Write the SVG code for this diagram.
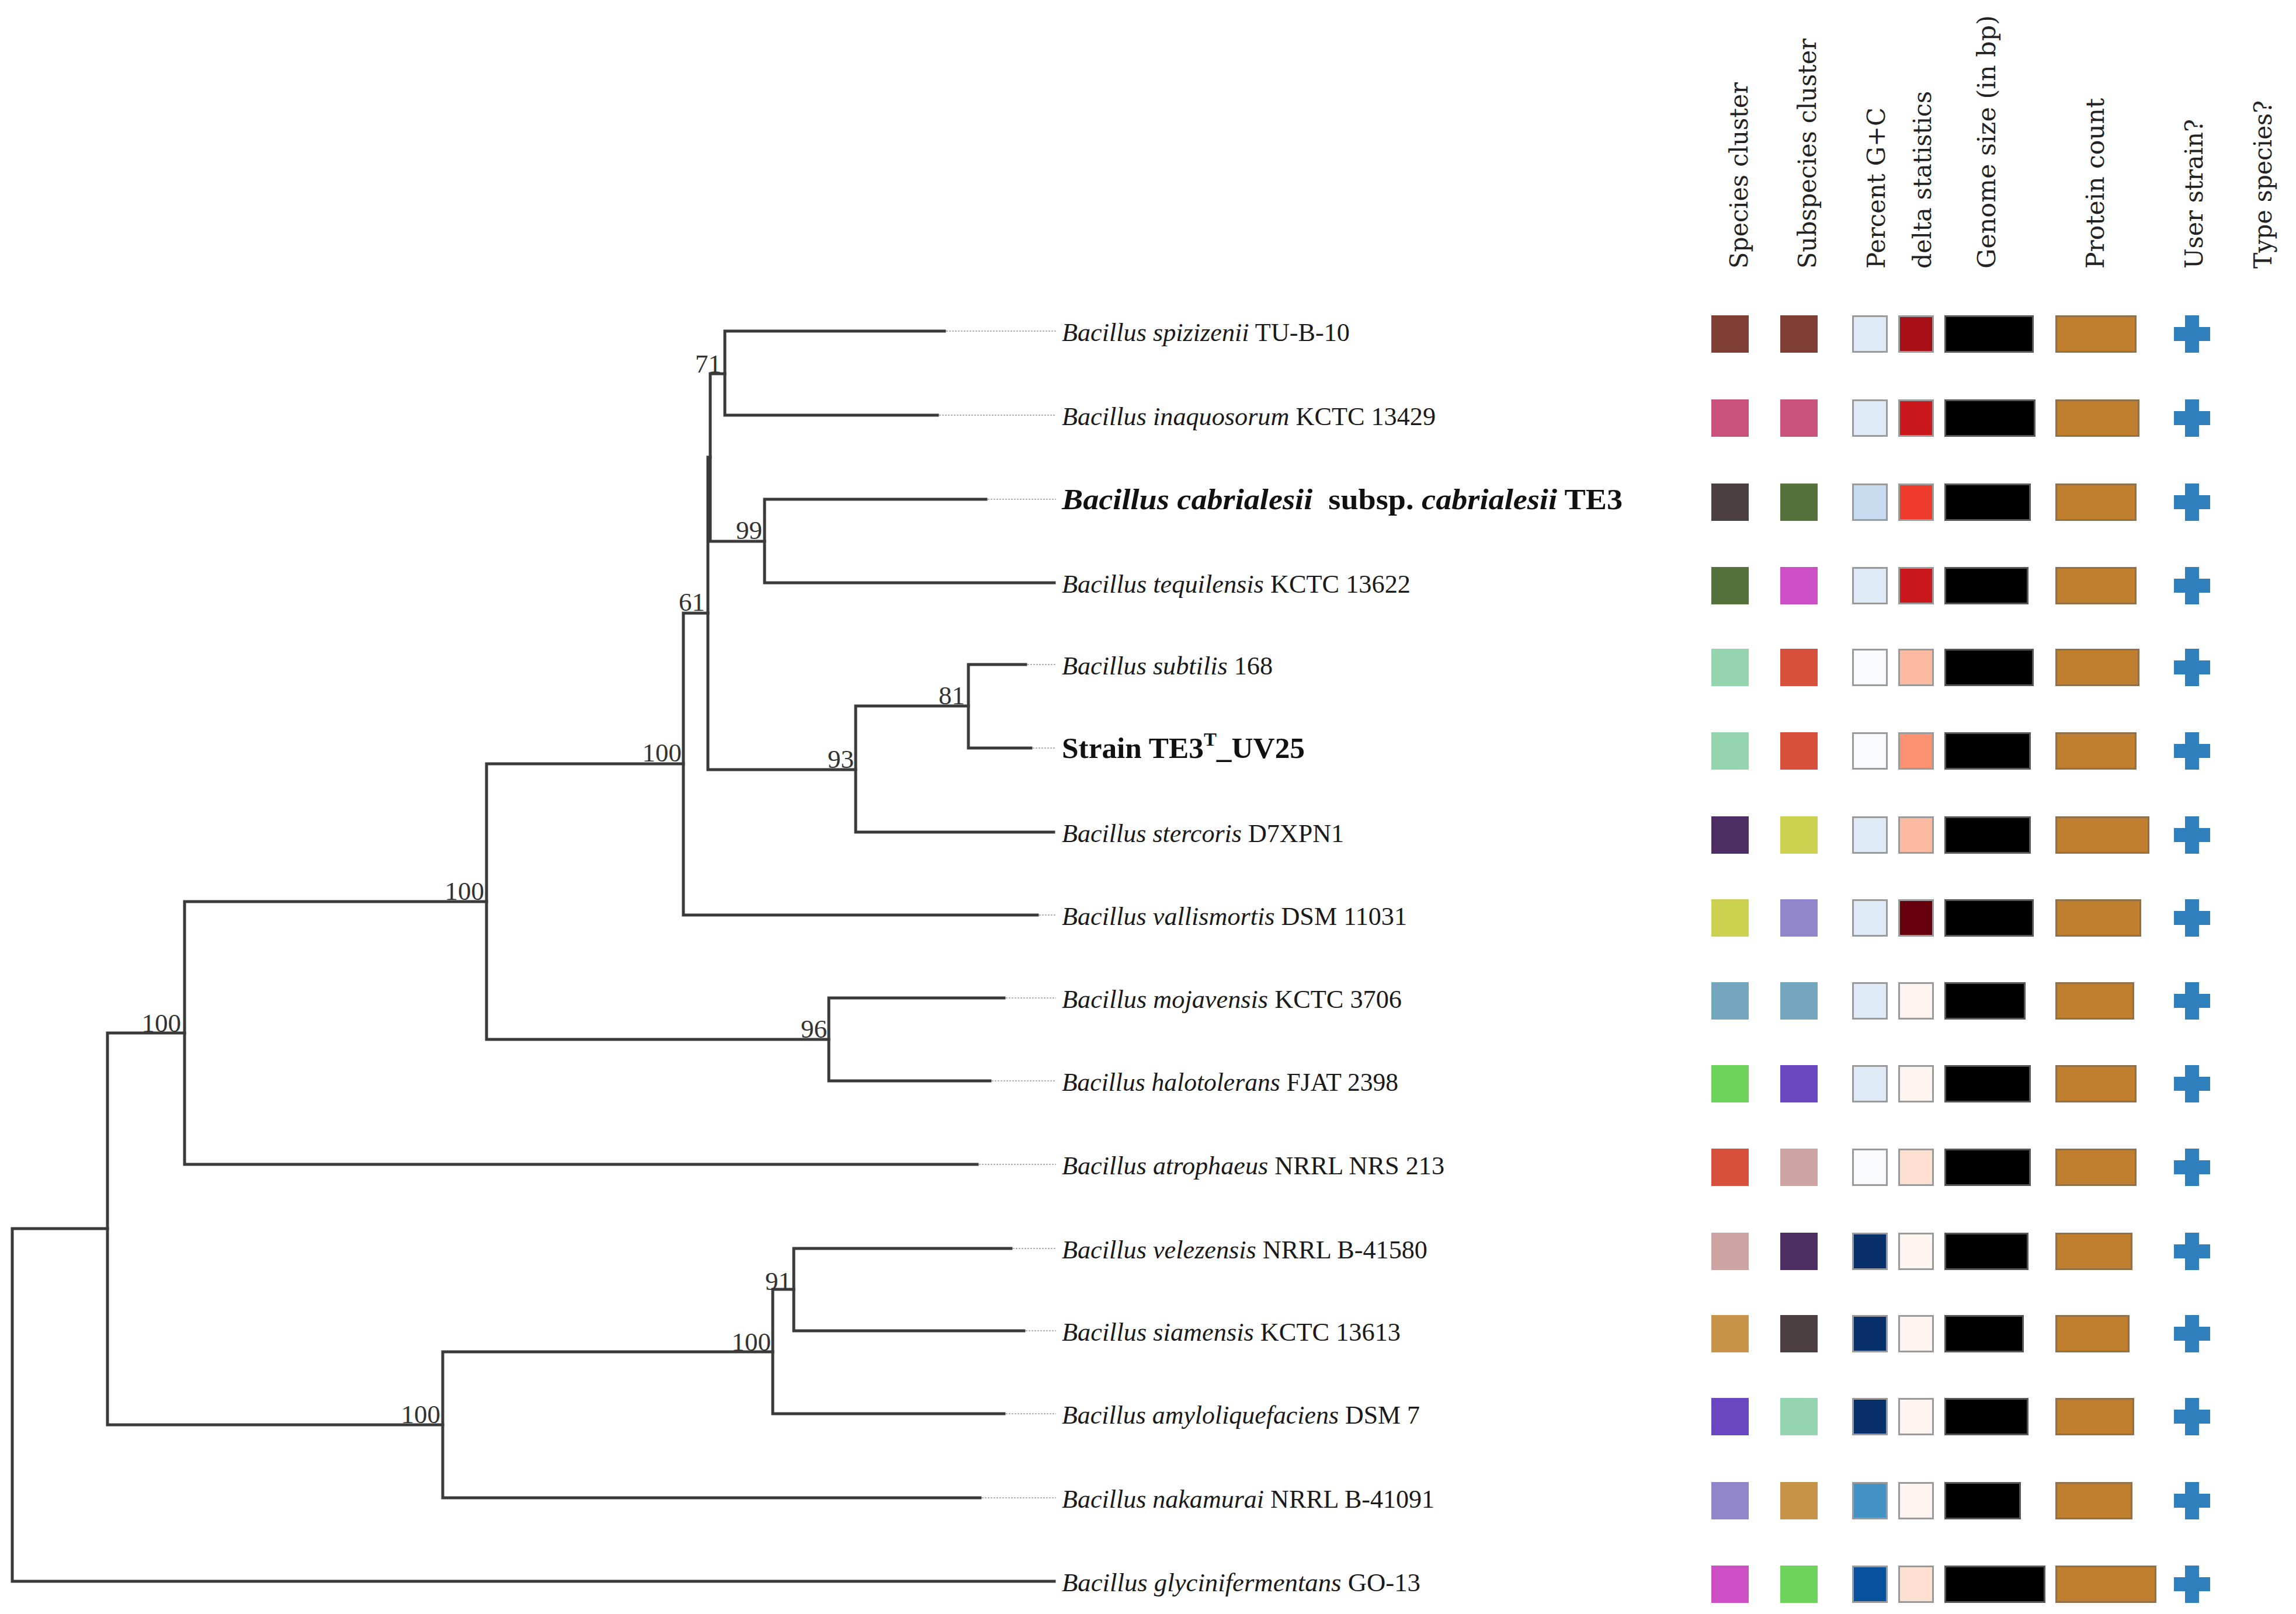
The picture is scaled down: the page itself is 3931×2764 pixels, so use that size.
<svg xmlns="http://www.w3.org/2000/svg" xmlns:xlink="http://www.w3.org/1999/xlink" width="3931" height="2764" viewBox="0 0 3931 2764">
<style>
.br{fill:none;stroke:#3a3a3a;stroke-width:5;stroke-linecap:square}
.dot{fill:none;stroke:#b4b4b4;stroke-width:2;stroke-dasharray:3 2}
.bs{font-family:"Liberation Serif",serif;font-size:45px;fill:#333;text-anchor:end}
.lab{font-family:"Liberation Serif",serif;font-size:45px;fill:#1a1a1a}
.labb{font-family:"Liberation Serif",serif;font-size:50px;font-weight:bold;fill:#111}
.it{font-style:italic}
.hdr{font-family:"DejaVu Serif",serif;font-size:42px;fill:#222}
.gc{stroke:#9a9a9a;stroke-width:3}
.gen{fill:#000;stroke:#555;stroke-width:3}
.pro{fill:#bf7f2f;stroke:#8f7048;stroke-width:3}
</style>
<defs>
<path id="plus" d="M-12,-32h24v20h19v24h-19v20h-24v-20h-19v-24h19z" fill="#2e7fbb"/>
</defs>
<rect width="3931" height="2764" fill="#fff"/>

<g id="headers">
<text class="hdr" transform="translate(2992,460) rotate(-90)" textLength="319" lengthAdjust="spacingAndGlyphs">Species cluster</text>
<text class="hdr" transform="translate(3109,460) rotate(-90)" textLength="394" lengthAdjust="spacingAndGlyphs">Subspecies cluster</text>
<text class="hdr" transform="translate(3227,460) rotate(-90)" textLength="276" lengthAdjust="spacingAndGlyphs">Percent G+C</text>
<text class="hdr" transform="translate(3306,460) rotate(-90)" textLength="304" lengthAdjust="spacingAndGlyphs">delta statistics</text>
<text class="hdr" transform="translate(3416,460) rotate(-90)" textLength="434" lengthAdjust="spacingAndGlyphs">Genome size (in bp)</text>
<text class="hdr" transform="translate(3602,460) rotate(-90)" textLength="292" lengthAdjust="spacingAndGlyphs">Protein count</text>
<text class="hdr" transform="translate(3771,460) rotate(-90)" textLength="256" lengthAdjust="spacingAndGlyphs">User strain?</text>
<text class="hdr" transform="translate(3889,460) rotate(-90)" textLength="288" lengthAdjust="spacingAndGlyphs">Type species?</text>
</g>

<g id="connectors">
<path class="br" d="M21,2104V2708M21,2104H184M21,2708H1805"/>
<path class="br" d="M184,1769V2440M184,1769H316M184,2440H758"/>
<path class="br" d="M316,1544V1994M316,1544H833M316,1994H1673"/>
<path class="br" d="M833,1308V1780M833,1308H1170M833,1780H1419"/>
<path class="br" d="M1170,1050V1567M1170,1050H1212M1170,1567H1776"/>
<path class="br" d="M1212,783V1318M1212,783H1216M1212,1318H1465"/>
<path class="br" d="M1216,640V927M1216,640H1241M1216,927H1309"/>
<path class="br" d="M1241,567V711M1241,567H1617M1241,711H1605"/>
<path class="br" d="M1309,855V998M1309,855H1688M1309,998H1805"/>
<path class="br" d="M1465,1209V1425M1465,1209H1658M1465,1425H1804"/>
<path class="br" d="M1658,1138V1281M1658,1138H1756M1658,1281H1765"/>
<path class="br" d="M1419,1709V1851M1419,1709H1719M1419,1851H1695"/>
<path class="br" d="M758,2315V2565M758,2315H1323M758,2565H1678"/>
<path class="br" d="M1323,2208V2421M1323,2208H1359M1323,2421H1719"/>
<path class="br" d="M1359,2138V2279M1359,2138H1731M1359,2279H1753"/>
<path class="dot" d="M1620,567H1808M1608,711H1808M1691,855H1808M1759,1138H1808M1768,1281H1808M1779,1567H1808M1722,1709H1808M1698,1851H1808M1676,1994H1808M1734,2138H1808M1756,2279H1808M1722,2421H1808M1681,2565H1808"/>
</g>

<g id="support-values">
<text class="bs" x="1235" y="638">71</text>
<text class="bs" x="1305" y="923">99</text>
<text class="bs" x="1207" y="1046">61</text>
<text class="bs" x="1167" y="1304">100</text>
<text class="bs" x="1462" y="1315">93</text>
<text class="bs" x="1652" y="1206">81</text>
<text class="bs" x="829" y="1541">100</text>
<text class="bs" x="310" y="1767">100</text>
<text class="bs" x="1416" y="1777">96</text>
<text class="bs" x="1355" y="2209">91</text>
<text class="bs" x="1320" y="2313">100</text>
<text class="bs" x="754" y="2437">100</text>
</g>

<g id="leaf-spizizenii">
<text class="lab" x="1818" y="584" textLength="493" lengthAdjust="spacingAndGlyphs"><tspan class="it">Bacillus spizizenii</tspan> TU-B-10</text>
<rect x="2930" y="540" width="64" height="64" fill="#803f35"/><rect x="3048" y="540" width="64" height="64" fill="#803f35"/>
<rect class="gc" x="3172.5" y="541.5" width="58" height="61" fill="#deebf7"/><rect class="gc" x="3251.5" y="541.5" width="58" height="61" fill="#a50f15"/>
<rect class="gen" x="3330.5" y="541.5" width="150" height="61"/><rect class="pro" x="3520.5" y="541.5" width="136" height="61"/>
<use xlink:href="#plus" x="3753" y="572"/>
</g>
<g id="leaf-inaquosorum">
<text class="lab" x="1818" y="728" textLength="640" lengthAdjust="spacingAndGlyphs"><tspan class="it">Bacillus inaquosorum</tspan> KCTC 13429</text>
<rect x="2930" y="684" width="64" height="64" fill="#c9527e"/><rect x="3048" y="684" width="64" height="64" fill="#c9527e"/>
<rect class="gc" x="3172.5" y="685.5" width="58" height="61" fill="#deebf7"/><rect class="gc" x="3251.5" y="685.5" width="58" height="61" fill="#cb181d"/>
<rect class="gen" x="3330.5" y="685.5" width="153" height="61"/><rect class="pro" x="3520.5" y="685.5" width="141" height="61"/>
<use xlink:href="#plus" x="3753" y="716"/>
</g>
<g id="leaf-cabrialesii">
<text class="labb" x="1818" y="872" textLength="960" lengthAdjust="spacingAndGlyphs" xml:space="preserve"><tspan class="it">Bacillus cabrialesii</tspan>  subsp. <tspan class="it">cabrialesii</tspan> TE3</text>
<rect x="2930" y="828" width="64" height="64" fill="#4b3f3f"/><rect x="3048" y="828" width="64" height="64" fill="#56723c"/>
<rect class="gc" x="3172.5" y="829.5" width="58" height="61" fill="#c6dbef"/><rect class="gc" x="3251.5" y="829.5" width="58" height="61" fill="#ef3b2c"/>
<rect class="gen" x="3330.5" y="829.5" width="145" height="61"/><rect class="pro" x="3520.5" y="829.5" width="136" height="61"/>
<use xlink:href="#plus" x="3753" y="860"/>
</g>
<g id="leaf-tequilensis">
<text class="lab" x="1818" y="1015" textLength="597" lengthAdjust="spacingAndGlyphs"><tspan class="it">Bacillus tequilensis</tspan> KCTC 13622</text>
<rect x="2930" y="971" width="64" height="64" fill="#56723c"/><rect x="3048" y="971" width="64" height="64" fill="#cc4fc4"/>
<rect class="gc" x="3172.5" y="972.5" width="58" height="61" fill="#deebf7"/><rect class="gc" x="3251.5" y="972.5" width="58" height="61" fill="#cb181d"/>
<rect class="gen" x="3330.5" y="972.5" width="141" height="61"/><rect class="pro" x="3520.5" y="972.5" width="136" height="61"/>
<use xlink:href="#plus" x="3753" y="1003"/>
</g>
<g id="leaf-subtilis">
<text class="lab" x="1818" y="1155" textLength="361" lengthAdjust="spacingAndGlyphs"><tspan class="it">Bacillus subtilis</tspan> 168</text>
<rect x="2930" y="1111" width="64" height="64" fill="#94d4ae"/><rect x="3048" y="1111" width="64" height="64" fill="#d6503b"/>
<rect class="gc" x="3172.5" y="1112.5" width="58" height="61" fill="#f7fbff"/><rect class="gc" x="3251.5" y="1112.5" width="58" height="61" fill="#fcbba1"/>
<rect class="gen" x="3330.5" y="1112.5" width="150" height="61"/><rect class="pro" x="3520.5" y="1112.5" width="141" height="61"/>
<use xlink:href="#plus" x="3753" y="1143"/>
</g>
<g id="leaf-strain-te3">
<text class="labb" x="1818" y="1298" textLength="416" lengthAdjust="spacingAndGlyphs">Strain TE3<tspan font-size="32" dy="-21">T</tspan><tspan dy="21">_UV25</tspan></text>
<rect x="2930" y="1254" width="64" height="64" fill="#94d4ae"/><rect x="3048" y="1254" width="64" height="64" fill="#d6503b"/>
<rect class="gc" x="3172.5" y="1255.5" width="58" height="61" fill="#f7fbff"/><rect class="gc" x="3251.5" y="1255.5" width="58" height="61" fill="#fc9272"/>
<rect class="gen" x="3330.5" y="1255.5" width="145" height="61"/><rect class="pro" x="3520.5" y="1255.5" width="136" height="61"/>
<use xlink:href="#plus" x="3753" y="1286"/>
</g>
<g id="leaf-stercoris">
<text class="lab" x="1818" y="1442" textLength="483" lengthAdjust="spacingAndGlyphs"><tspan class="it">Bacillus stercoris</tspan> D7XPN1</text>
<rect x="2930" y="1398" width="64" height="64" fill="#4e2d63"/><rect x="3048" y="1398" width="64" height="64" fill="#ccd152"/>
<rect class="gc" x="3172.5" y="1399.5" width="58" height="61" fill="#deebf7"/><rect class="gc" x="3251.5" y="1399.5" width="58" height="61" fill="#fcbba1"/>
<rect class="gen" x="3330.5" y="1399.5" width="145" height="61"/><rect class="pro" x="3520.5" y="1399.5" width="158" height="61"/>
<use xlink:href="#plus" x="3753" y="1430"/>
</g>
<g id="leaf-vallismortis">
<text class="lab" x="1818" y="1584" textLength="591" lengthAdjust="spacingAndGlyphs"><tspan class="it">Bacillus vallismortis</tspan> DSM 11031</text>
<rect x="2930" y="1540" width="64" height="64" fill="#ccd152"/><rect x="3048" y="1540" width="64" height="64" fill="#9286ca"/>
<rect class="gc" x="3172.5" y="1541.5" width="58" height="61" fill="#deebf7"/><rect class="gc" x="3251.5" y="1541.5" width="58" height="61" fill="#67000d"/>
<rect class="gen" x="3330.5" y="1541.5" width="150" height="61"/><rect class="pro" x="3520.5" y="1541.5" width="144" height="61"/>
<use xlink:href="#plus" x="3753" y="1572"/>
</g>
<g id="leaf-mojavensis">
<text class="lab" x="1818" y="1726" textLength="582" lengthAdjust="spacingAndGlyphs"><tspan class="it">Bacillus mojavensis</tspan> KCTC 3706</text>
<rect x="2930" y="1682" width="64" height="64" fill="#74a7bd"/><rect x="3048" y="1682" width="64" height="64" fill="#74a7bd"/>
<rect class="gc" x="3172.5" y="1683.5" width="58" height="61" fill="#deebf7"/><rect class="gc" x="3251.5" y="1683.5" width="58" height="61" fill="#fff5f0"/>
<rect class="gen" x="3330.5" y="1683.5" width="136" height="61"/><rect class="pro" x="3520.5" y="1683.5" width="132" height="61"/>
<use xlink:href="#plus" x="3753" y="1714"/>
</g>
<g id="leaf-halotolerans">
<text class="lab" x="1818" y="1868" textLength="576" lengthAdjust="spacingAndGlyphs"><tspan class="it">Bacillus halotolerans</tspan> FJAT 2398</text>
<rect x="2930" y="1824" width="64" height="64" fill="#6dd35a"/><rect x="3048" y="1824" width="64" height="64" fill="#6b46c1"/>
<rect class="gc" x="3172.5" y="1825.5" width="58" height="61" fill="#deebf7"/><rect class="gc" x="3251.5" y="1825.5" width="58" height="61" fill="#fff5f0"/>
<rect class="gen" x="3330.5" y="1825.5" width="145" height="61"/><rect class="pro" x="3520.5" y="1825.5" width="136" height="61"/>
<use xlink:href="#plus" x="3753" y="1856"/>
</g>
<g id="leaf-atrophaeus">
<text class="lab" x="1818" y="2011" textLength="655" lengthAdjust="spacingAndGlyphs"><tspan class="it">Bacillus atrophaeus</tspan> NRRL NRS 213</text>
<rect x="2930" y="1967" width="64" height="64" fill="#d6503b"/><rect x="3048" y="1967" width="64" height="64" fill="#cda4a2"/>
<rect class="gc" x="3172.5" y="1968.5" width="58" height="61" fill="#f7fbff"/><rect class="gc" x="3251.5" y="1968.5" width="58" height="61" fill="#fee0d2"/>
<rect class="gen" x="3330.5" y="1968.5" width="145" height="61"/><rect class="pro" x="3520.5" y="1968.5" width="136" height="61"/>
<use xlink:href="#plus" x="3753" y="1999"/>
</g>
<g id="leaf-velezensis">
<text class="lab" x="1818" y="2155" textLength="626" lengthAdjust="spacingAndGlyphs"><tspan class="it">Bacillus velezensis</tspan> NRRL B-41580</text>
<rect x="2930" y="2111" width="64" height="64" fill="#cda4a2"/><rect x="3048" y="2111" width="64" height="64" fill="#4e2d63"/>
<rect class="gc" x="3172.5" y="2112.5" width="58" height="61" fill="#08306b"/><rect class="gc" x="3251.5" y="2112.5" width="58" height="61" fill="#fff5f0"/>
<rect class="gen" x="3330.5" y="2112.5" width="141" height="61"/><rect class="pro" x="3520.5" y="2112.5" width="129" height="61"/>
<use xlink:href="#plus" x="3753" y="2143"/>
</g>
<g id="leaf-siamensis">
<text class="lab" x="1818" y="2296" textLength="580" lengthAdjust="spacingAndGlyphs"><tspan class="it">Bacillus siamensis</tspan> KCTC 13613</text>
<rect x="2930" y="2252" width="64" height="64" fill="#c89449"/><rect x="3048" y="2252" width="64" height="64" fill="#4b3f3f"/>
<rect class="gc" x="3172.5" y="2253.5" width="58" height="61" fill="#08306b"/><rect class="gc" x="3251.5" y="2253.5" width="58" height="61" fill="#fff5f0"/>
<rect class="gen" x="3330.5" y="2253.5" width="133" height="61"/><rect class="pro" x="3520.5" y="2253.5" width="124" height="61"/>
<use xlink:href="#plus" x="3753" y="2284"/>
</g>
<g id="leaf-amyloliquefaciens">
<text class="lab" x="1818" y="2438" textLength="613" lengthAdjust="spacingAndGlyphs"><tspan class="it">Bacillus amyloliquefaciens</tspan> DSM 7</text>
<rect x="2930" y="2394" width="64" height="64" fill="#6b46c1"/><rect x="3048" y="2394" width="64" height="64" fill="#94d4ae"/>
<rect class="gc" x="3172.5" y="2395.5" width="58" height="61" fill="#08306b"/><rect class="gc" x="3251.5" y="2395.5" width="58" height="61" fill="#fff5f0"/>
<rect class="gen" x="3330.5" y="2395.5" width="141" height="61"/><rect class="pro" x="3520.5" y="2395.5" width="132" height="61"/>
<use xlink:href="#plus" x="3753" y="2426"/>
</g>
<g id="leaf-nakamurai">
<text class="lab" x="1818" y="2582" textLength="638" lengthAdjust="spacingAndGlyphs"><tspan class="it">Bacillus nakamurai</tspan> NRRL B-41091</text>
<rect x="2930" y="2538" width="64" height="64" fill="#9286ca"/><rect x="3048" y="2538" width="64" height="64" fill="#c89449"/>
<rect class="gc" x="3172.5" y="2539.5" width="58" height="61" fill="#4292c6"/><rect class="gc" x="3251.5" y="2539.5" width="58" height="61" fill="#fff5f0"/>
<rect class="gen" x="3330.5" y="2539.5" width="128" height="61"/><rect class="pro" x="3520.5" y="2539.5" width="129" height="61"/>
<use xlink:href="#plus" x="3753" y="2570"/>
</g>
<g id="leaf-glycinifermentans">
<text class="lab" x="1818" y="2725" textLength="614" lengthAdjust="spacingAndGlyphs"><tspan class="it">Bacillus glycinifermentans</tspan> GO-13</text>
<rect x="2930" y="2681" width="64" height="64" fill="#cc4fc4"/><rect x="3048" y="2681" width="64" height="64" fill="#6dd35a"/>
<rect class="gc" x="3172.5" y="2682.5" width="58" height="61" fill="#08519c"/><rect class="gc" x="3251.5" y="2682.5" width="58" height="61" fill="#fee0d2"/>
<rect class="gen" x="3330.5" y="2682.5" width="170" height="61"/><rect class="pro" x="3520.5" y="2682.5" width="170" height="61"/>
<use xlink:href="#plus" x="3753" y="2713"/>
</g>
</svg>
